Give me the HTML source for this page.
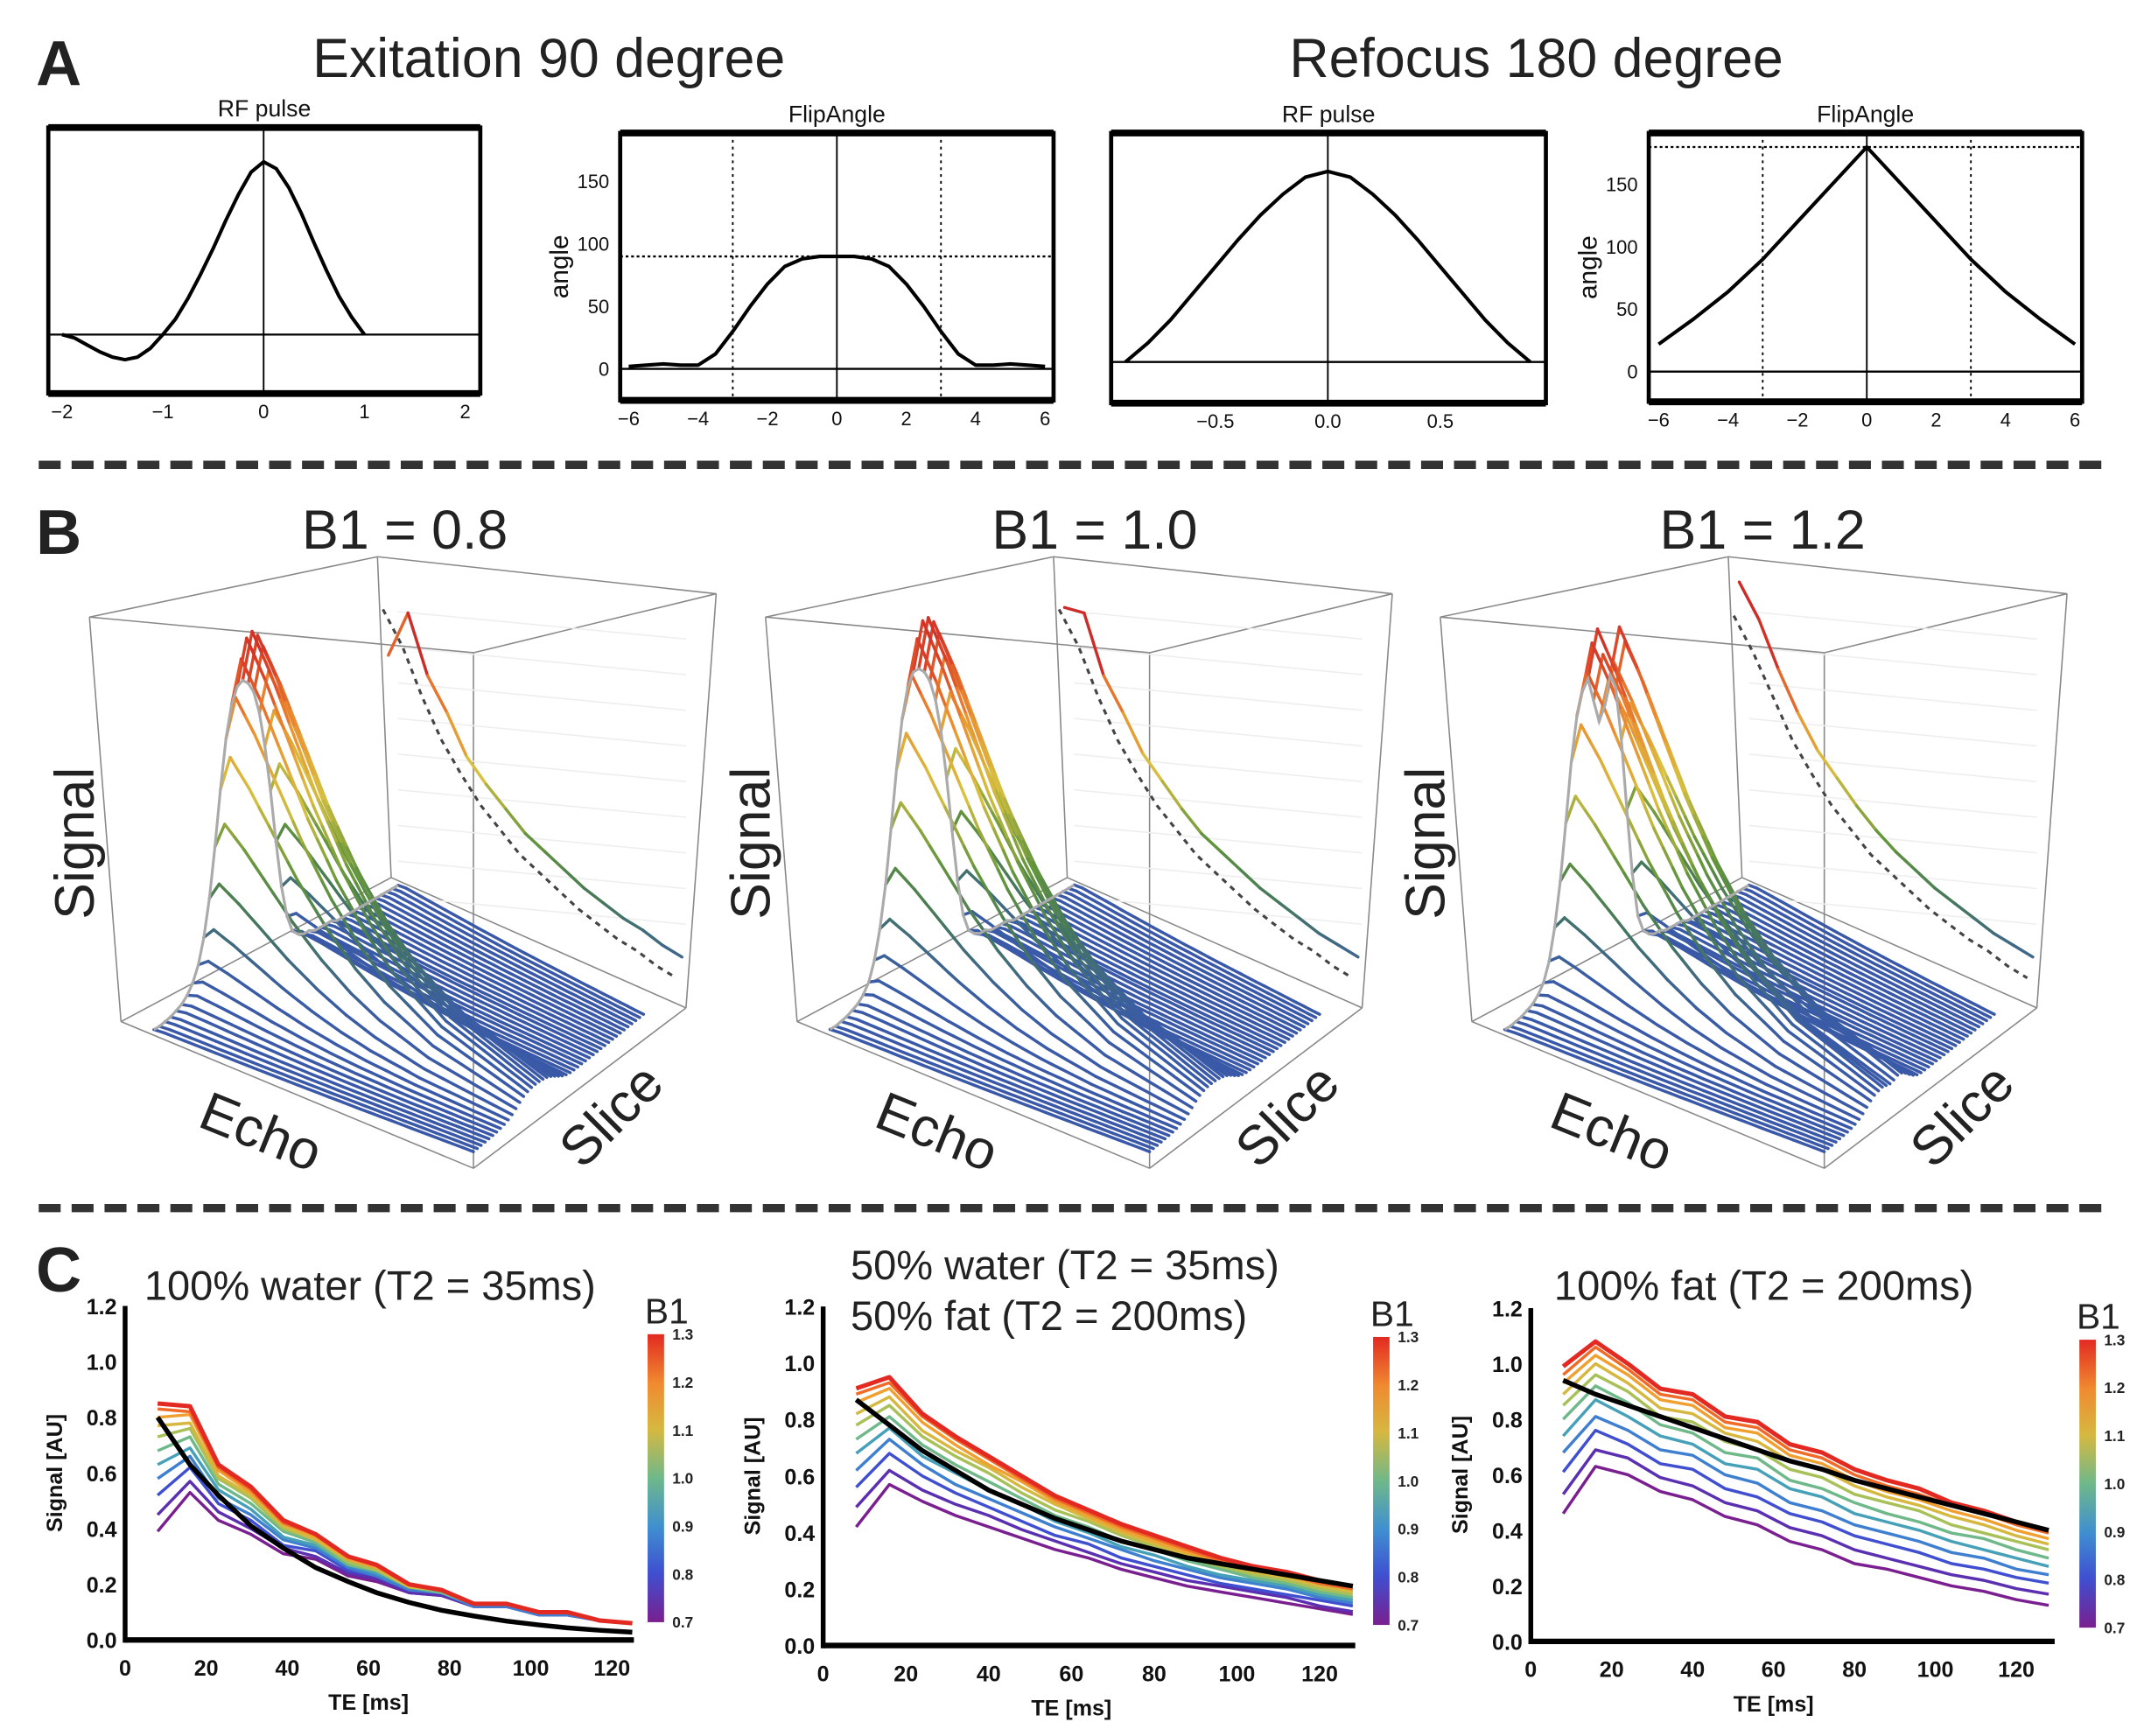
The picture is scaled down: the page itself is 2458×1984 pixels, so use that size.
<!DOCTYPE html>
<html><head><meta charset="utf-8"><title>RF pulse and B1 signal simulation figure</title>
<style>html,body{margin:0;padding:0;background:#fff}svg{display:block}text{font-family:"Liberation Sans",sans-serif}</style></head>
<body>
<svg id="fig" xmlns="http://www.w3.org/2000/svg" width="2458" height="1984" viewBox="0 0 1568 1266">
<defs>
<linearGradient id="cbar" x1="0" y1="1" x2="0" y2="0">
<stop offset="0" stop-color="#7a1f8f"/><stop offset="0.17" stop-color="#3f4fd0"/><stop offset="0.33" stop-color="#3f8fd0"/><stop offset="0.5" stop-color="#6fb88a"/><stop offset="0.67" stop-color="#d6b840"/><stop offset="0.83" stop-color="#f08a30"/><stop offset="1" stop-color="#e22a22"/>
</linearGradient>
</defs>
<g id="panelA">
<text x="26" y="62" font-size="46" font-weight="bold" fill="#222">A</text>
<text x="400" y="56" font-size="40" text-anchor="middle" fill="#222">Exitation 90 degree</text>
<text x="1120" y="56" font-size="40" text-anchor="middle" fill="#222">Refocus 180 degree</text>
</g>
<line x1="28" y1="339" x2="1540" y2="339" stroke="#333" stroke-width="6" stroke-dasharray="16 8"/>
<line x1="28" y1="881" x2="1540" y2="881" stroke="#333" stroke-width="6" stroke-dasharray="16 8"/>
<g id="panelB">
<text x="26" y="404" font-size="46" font-weight="bold" fill="#222">B</text>
<text x="295" y="400" font-size="40" text-anchor="middle" fill="#222">B1 = 0.8</text>
<text x="798" y="400" font-size="40" text-anchor="middle" fill="#222">B1 = 1.0</text>
<text x="1285" y="400" font-size="40" text-anchor="middle" fill="#222">B1 = 1.2</text>
</g>
<g id="panelC">
<text x="26" y="942" font-size="46" font-weight="bold" fill="#222">C</text>
<text x="105" y="948" font-size="30" fill="#222">100% water (T2 = 35ms)</text>
<text x="620" y="933" font-size="30" fill="#222">50% water (T2 = 35ms)</text>
<text x="620" y="970" font-size="30" fill="#222">50% fat (T2 = 200ms)</text>
<text x="1133" y="948" font-size="30" fill="#222">100% fat (T2 = 200ms)</text>
</g>
</svg>
<script>
// ---------- Panel A data ----------
const rf90X = [-2,-1.875,-1.75,-1.625,-1.5,-1.375,-1.25,-1.125,-1,-0.875,-0.75,-0.625,-0.5,-0.375,-0.25,-0.125,0,0.125,0.25,0.375,0.5,0.625,0.75,0.875,1];
const rf90Y = [0,-0.02,-0.06,-0.10,-0.13,-0.145,-0.13,-0.08,0,0.09,0.21,0.35,0.50,0.66,0.81,0.94,1.0,0.96,0.85,0.70,0.53,0.37,0.22,0.10,0];
const fa90X = [-6,-5.5,-5,-4.5,-4,-3.5,-3,-2.5,-2,-1.5,-1,-0.5,0,0.5,1,1.5,2,2.5,3,3.5,4,4.5,5,5.5,6];
const fa90Y = [2,3,4,3,3,12,30,50,68,82,88,90,90,90,88,82,68,50,30,12,3,3,4,3,2];
const rf180X = [-0.9,-0.8,-0.7,-0.6,-0.5,-0.4,-0.3,-0.2,-0.1,0,0.1,0.2,0.3,0.4,0.5,0.6,0.7,0.8,0.9];
const rf180Y = [0,0.1,0.22,0.36,0.5,0.64,0.77,0.88,0.97,1,0.97,0.88,0.77,0.64,0.5,0.36,0.22,0.1,0];
const fa180X = [-6,-5,-4,-3,-2,-1,0,1,2,3,4,5,6];
const fa180Y = [22,42,64,90,120,150,180,150,120,90,64,42,22];
const faTicks = [0,50,100,150];
const rfTicks90 = [-2,-1,0,1,2];
const xTicks6 = [-6,-4,-2,0,2,4,6];
const rfTicks180 = [-0.5,0.0,0.5];

// ---------- Panel B data ----------
const echoDecay = [0.85,1.00,0.95,0.90,0.84,0.78,0.72,0.66,0.60,0.55,0.50,0.45,0.41,0.37,0.33,0.30,0.27,0.24,0.22,0.20,0.18,0.16,0.14,0.13,0.12,0.11,0.10,0.09,0.08,0.07,0.06,0.05];
const profile08 = [0.01,0.01,0.015,0.02,0.03,0.04,0.06,0.09,0.14,0.22,0.34,0.50,0.68,0.84,0.94,0.99,1.0,0.98,0.94,0.86,0.74,0.58,0.40,0.24,0.13,0.07,0.05,0.04,0.04,0.03,0.03,0.03,0.03,0.02,0.02,0.02,0.02,0.02,0.02,0.02,0.02,0.02,0.02,0.02,0.02];
const profile10 = [0.01,0.01,0.015,0.02,0.03,0.04,0.06,0.09,0.15,0.24,0.37,0.54,0.72,0.87,0.96,1.0,1.0,0.98,0.94,0.87,0.76,0.60,0.42,0.25,0.13,0.07,0.05,0.04,0.04,0.03,0.03,0.03,0.03,0.02,0.02,0.02,0.02,0.02,0.02,0.02,0.02,0.02,0.02,0.02,0.02];
const profile12 = [0.01,0.01,0.015,0.02,0.03,0.04,0.06,0.09,0.15,0.25,0.39,0.57,0.76,0.90,0.97,1.0,0.92,0.84,0.88,0.97,0.92,0.74,0.50,0.28,0.13,0.07,0.05,0.04,0.04,0.03,0.03,0.03,0.03,0.02,0.02,0.02,0.02,0.02,0.02,0.02,0.02,0.02,0.02,0.02,0.02];
const wall08 = [0.85,1.00,0.82,0.72,0.60,0.53,0.47,0.41,0.37,0.33,0.29,0.26,0.23,0.21,0.18,0.16];
const wallDash08 = [1.02,0.92,0.78,0.66,0.57,0.49,0.43,0.37,0.33,0.29,0.25,0.22,0.19,0.17,0.14,0.12];
const wall10 = [1.00,1.00,0.82,0.72,0.61,0.54,0.47,0.41,0.37,0.33,0.29,0.26,0.23,0.20,0.18,0.16];
const wallDash10 = [1.02,0.92,0.78,0.66,0.57,0.49,0.43,0.37,0.33,0.29,0.25,0.22,0.19,0.17,0.14,0.12];
const wall12 = [1.08,0.98,0.84,0.72,0.62,0.55,0.48,0.42,0.37,0.33,0.29,0.26,0.23,0.20,0.18,0.16];
const wallDash12 = [1.00,0.90,0.78,0.66,0.57,0.49,0.43,0.37,0.33,0.29,0.25,0.22,0.19,0.17,0.14,0.12];

// ---------- Panel C data ----------
const teWater = [8,16,23,31,39,47,55,62,70,78,86,94,102,109,117,125];
const teMix = [8,16,24,32,40,48,56,64,72,80,88,96,104,112,120,128];
const b1Levels = [0.7,0.76,0.82,0.88,0.94,1.0,1.06,1.12,1.18,1.24,1.3];
const water070 = [.39,.53,.43,.38,.31,.29,.23,.21,.17,.16,.12,.12,.09,.09,.07,.06];
const water076 = [.45,.57,.46,.40,.33,.30,.24,.22,.17,.16,.12,.12,.09,.09,.07,.06];
const water082 = [.52,.62,.49,.43,.34,.32,.25,.23,.18,.17,.12,.12,.09,.09,.07,.06];
const water088 = [.58,.66,.51,.45,.36,.33,.26,.23,.18,.17,.12,.12,.09,.09,.07,.06];
const water094 = [.63,.69,.54,.47,.37,.34,.27,.24,.19,.17,.13,.13,.10,.10,.07,.06];
const water100 = [.68,.73,.56,.49,.39,.35,.27,.25,.19,.17,.13,.13,.10,.10,.07,.06];
const water106 = [.73,.76,.58,.51,.40,.36,.28,.25,.19,.18,.13,.13,.10,.10,.07,.06];
const water112 = [.77,.78,.59,.52,.41,.36,.29,.26,.19,.18,.13,.13,.10,.10,.07,.06];
const water118 = [.80,.81,.61,.53,.42,.37,.29,.26,.20,.18,.13,.13,.10,.10,.07,.06];
const water124 = [.83,.82,.62,.54,.42,.38,.30,.27,.20,.18,.13,.13,.10,.10,.07,.06];
const water130 = [.85,.84,.63,.55,.43,.38,.30,.27,.20,.18,.13,.13,.10,.10,.07,.06];
const waterRef = [.80,.63,.52,.41,.33,.26,.21,.17,.135,.107,.086,.068,.054,.044,.035,.028];
const mix070 = [.42,.57,.51,.46,.42,.38,.34,.31,.27,.24,.21,.19,.17,.15,.13,.11];
const mix076 = [.49,.62,.55,.50,.46,.41,.37,.33,.29,.26,.23,.21,.19,.17,.14,.12];
const mix082 = [.56,.68,.60,.54,.49,.44,.39,.36,.31,.28,.25,.22,.20,.18,.16,.14];
const mix088 = [.62,.73,.64,.57,.52,.47,.42,.38,.34,.30,.27,.24,.22,.20,.17,.15];
const mix094 = [.68,.77,.67,.61,.55,.50,.44,.40,.35,.32,.28,.25,.23,.21,.18,.16];
const mix100 = [.73,.81,.71,.64,.58,.52,.46,.42,.37,.34,.30,.27,.24,.22,.19,.17];
const mix106 = [.78,.85,.74,.67,.61,.54,.48,.44,.39,.35,.31,.28,.25,.23,.20,.18];
const mix112 = [.82,.88,.76,.69,.63,.56,.50,.45,.40,.36,.32,.29,.26,.24,.21,.19];
const mix118 = [.86,.91,.79,.71,.64,.58,.51,.46,.41,.37,.33,.30,.27,.25,.22,.20];
const mix124 = [.89,.93,.81,.73,.66,.59,.52,.47,.42,.38,.34,.30,.27,.25,.22,.20];
const mix130 = [.91,.95,.82,.74,.67,.60,.53,.48,.43,.39,.35,.31,.28,.26,.23,.21];
const mixRef = [.87,.78,.69,.62,.55,.50,.45,.41,.37,.34,.31,.29,.27,.25,.23,.21];
const fat070 = [.46,.63,.60,.54,.51,.45,.42,.36,.33,.28,.26,.23,.20,.18,.15,.13];
const fat076 = [.53,.69,.66,.59,.56,.50,.47,.41,.38,.33,.30,.27,.24,.22,.19,.17];
const fat082 = [.61,.76,.71,.64,.62,.55,.52,.46,.43,.38,.35,.32,.28,.26,.23,.21];
const fat088 = [.68,.81,.76,.69,.67,.60,.57,.50,.47,.42,.39,.36,.32,.30,.26,.24];
const fat094 = [.74,.87,.81,.74,.71,.64,.62,.55,.52,.46,.43,.40,.36,.33,.30,.27];
const fat100 = [.80,.92,.86,.78,.75,.68,.66,.58,.55,.50,.46,.43,.39,.37,.33,.30];
const fat106 = [.85,.96,.90,.81,.79,.72,.69,.62,.59,.53,.50,.47,.42,.39,.36,.33];
const fat112 = [.89,1.00,.93,.84,.82,.75,.72,.65,.62,.56,.52,.49,.45,.42,.38,.35];
const fat118 = [.93,1.03,.96,.87,.85,.77,.75,.67,.64,.58,.54,.51,.47,.44,.40,.37];
const fat124 = [.96,1.06,.98,.89,.87,.79,.77,.69,.66,.60,.56,.53,.49,.46,.42,.39];
const fat130 = [.99,1.08,1.00,.91,.89,.81,.79,.71,.68,.62,.58,.55,.50,.47,.43,.40];
const fatRef = [.94,.89,.85,.81,.77,.73,.69,.65,.62,.58,.55,.52,.49,.46,.43,.40];
const sigTicks = [0.0,0.2,0.4,0.6,0.8,1.0,1.2];
const teTicks = [0,20,40,60,80,100,120];
const cbarTicks = [0.7,0.8,0.9,1.0,1.1,1.2,1.3];

const NS='http://www.w3.org/2000/svg';
const svg=document.getElementById('fig');
function mk(tag,attrs,parent){const e=document.createElementNS(NS,tag);for(const k in attrs)e.setAttribute(k,attrs[k]);(parent||svg).appendChild(e);return e;}
function pts(xs,ys,fx,fy){return xs.map((x,i)=>fx(x).toFixed(1)+','+fy(ys[i]).toFixed(1)).join(' ');}
const lineColors=['#7a1f8f','#5a2fb0','#3f4fd0','#3f7fd0','#46a0b8','#6fb88a','#a8c058','#d6b840','#f0a030','#f06a28','#e22a22'];

// ---------- Panel A ----------
function aPlot(cfg){
  const g=mk('g',{});
  
  
  const fx=v=>cfg.x0+v*cfg.kx, fy=v=>cfg.y0-v*cfg.ky;
  const t=mk('text',{x:(cfg.L+cfg.R)/2,y:cfg.T-8,'font-size':17,'text-anchor':'middle',fill:'#111'},g);t.textContent=cfg.title;
  
  const r=mk('rect',{x:cfg.L,y:cfg.T,width:cfg.R-cfg.L,height:cfg.B-cfg.T,fill:'none',stroke:'#000','stroke-width':3},g);
  
  mk('line',{x1:cfg.L,x2:cfg.R,y1:cfg.T,y2:cfg.T,stroke:'#000','stroke-width':5},g);
  mk('line',{x1:cfg.L,x2:cfg.R,y1:cfg.B,y2:cfg.B,stroke:'#000','stroke-width':5},g);
  mk('line',{x1:cfg.L,x2:cfg.R,y1:fy(0),y2:fy(0),stroke:'#000','stroke-width':1.5},g);
  mk('line',{x1:fx(0),x2:fx(0),y1:cfg.T,y2:cfg.B,stroke:'#000','stroke-width':1.2},g);
  (cfg.dotV||[]).forEach(v=>mk('line',{x1:fx(v),x2:fx(v),y1:cfg.T,y2:cfg.B,stroke:'#000','stroke-width':1.2,'stroke-dasharray':'2 3'},g));
  (cfg.dotH||[]).forEach(v=>mk('line',{x1:cfg.L,x2:cfg.R,y1:fy(v),y2:fy(v),stroke:'#000','stroke-width':1.5,'stroke-dasharray':'2 2'},g));
  const c=mk('polyline',{points:pts(cfg.xs,cfg.ys,fx,fy),fill:'none',stroke:'#000','stroke-width':2.6,'stroke-linejoin':'round'},g);
  
  cfg.xt.forEach(v=>{const tt=mk('text',{x:fx(v),y:cfg.B+18,'font-size':14,'text-anchor':'middle',fill:'#111'},g);tt.textContent=(cfg.xfmt?cfg.xfmt(v):String(v)).replace('-','\u2212');
    });
  if(cfg.yt){cfg.yt.forEach(v=>{const tt=mk('text',{x:cfg.L-8,y:fy(v)+5,'font-size':14,'text-anchor':'end',fill:'#111'},g);tt.textContent=v;
    });
    const yl=mk('text',{x:0,y:0,'font-size':19,'text-anchor':'middle',fill:'#111',transform:`translate(${cfg.L-38},${(cfg.T+cfg.B)/2}) rotate(-90)`},g);yl.textContent='angle';
    }
}
aPlot({name:'rf-pulse-90',title:'RF pulse',L:35,R:350,T:93,B:287,x0:192,kx:73.5,y0:244,ky:126,xs:rf90X,ys:rf90Y,xt:rfTicks90});
aPlot({name:'flip-angle-90',title:'FlipAngle',L:452,R:768,T:97,B:292,x0:610,kx:25.3,y0:269,ky:0.911,xs:fa90X,ys:fa90Y,xt:xTicks6,yt:faTicks,dotV:[-3,3],dotH:[90]});
aPlot({name:'rf-pulse-180',title:'RF pulse',L:810,R:1127,T:97,B:294,x0:968,kx:164,y0:264,ky:139,xs:rf180X,ys:rf180Y,xt:rfTicks180,xfmt:v=>v.toFixed(1)});
aPlot({name:'flip-angle-180',title:'FlipAngle',L:1202,R:1518,T:97,B:293,x0:1361,kx:25.3,y0:271,ky:0.91,xs:fa180X,ys:fa180Y,xt:xTicks6,yt:faTicks,dotV:[-3,3],dotH:[180]});

// ---------- Panel B ----------
const cmapStops=[[0,[58,88,168]],[0.12,[58,92,165]],[0.28,[70,120,90]],[0.42,[100,150,60]],[0.6,[216,192,64]],[0.78,[235,140,48]],[0.9,[220,70,40]],[1,[205,45,40]]];
function cmap(v){v=Math.max(0,Math.min(1,v));for(let i=1;i<cmapStops.length;i++){const a=cmapStops[i-1],b=cmapStops[i];if(v<=b[0]){const t=(v-a[0])/(b[0]-a[0]);const c=a[1].map((x,j)=>Math.round(x+(b[1][j]-x)*t));return `rgb(${c})`;}}return 'rgb(205,45,40)';}
function draw3D(name,ox,profile,wall,wallDash,zs){
  const g=mk('g',{transform:`translate(${ox},0)`});
  
  
  const V={A:[65,450],B:[345,476],C:[522,433],D:[275,406],E:[88,745],F:[345,852],G:[500,735],H:[285,640]};
  [['A','B'],['B','C'],['C','D'],['D','A'],['E','F'],['F','G'],['G','H'],['H','E'],['A','E'],['B','F'],['C','G'],['D','H']].forEach(([p,q])=>{
    const l=mk('line',{x1:V[p][0],y1:V[p][1],x2:V[q][0],y2:V[q][1],stroke:'#888','stroke-width':1},g);
    });
  for(let i=1;i<=9;i++){const y=420+i*26;mk('line',{x1:290,y1:y,x2:500,y2:y+20,stroke:'#eee','stroke-width':1},g);}
  const P00=[112,753],P01=[345,840],P10=[290,650],P11=[469,740];
  const N=echoDecay.length,M=profile.length;
  const pos=(j,k,z)=>{const s=j/(M-1),e=k/(N-1);
    const x=(1-s)*((1-e)*P00[0]+e*P01[0])+s*((1-e)*P10[0]+e*P11[0]);
    const y=(1-s)*((1-e)*P00[1]+e*P01[1])+s*((1-e)*P10[1]+e*P11[1]);
    return [x,y-z];};
  for(let j=M-1;j>=0;j--){
    const lg=mk('g',{},g);
    
    
    for(let k=1;k<N;k++){
      const v0=profile[j]*echoDecay[k-1],v1=profile[j]*echoDecay[k];
      const a=pos(j,k-1,zs*v0),b=pos(j,k,zs*v1);
      mk('line',{x1:a[0].toFixed(1),y1:a[1].toFixed(1),x2:b[0].toFixed(1),y2:b[1].toFixed(1),stroke:cmap((v0+v1)/2),'stroke-width':2.2,'stroke-linecap':'round'},lg);
    }
  }
  const env=mk('polyline',{points:profile.map((v,j)=>pos(j,0,zs*v*echoDecay[0]).map(n=>n.toFixed(1)).join(',')).join(' '),fill:'none',stroke:'#aaa','stroke-width':2},g);
  
  const W=wall.length;
  const wp=(arr,i)=>{const e=i/(W-1);return [283+214*e,675+60*e-232*arr[i]];};
  const dash=mk('polyline',{points:wallDash.map((v,i)=>{const q=wp(wallDash,i);return (q[0]-4).toFixed(1)+','+(q[1]+6).toFixed(1);}).join(' '),fill:'none',stroke:'#444','stroke-width':2,'stroke-dasharray':'4 4'},g);
  
  for(let i=1;i<W;i++){const a=wp(wall,i-1),b=wp(wall,i);
    const sg=mk('line',{x1:a[0],y1:a[1],x2:b[0],y2:b[1],stroke:cmap(wall[i-1]),'stroke-width':2.2,'stroke-linecap':'round'},g);
    }
  const ts=mk('text',{x:0,y:0,'font-size':40,'text-anchor':'middle',fill:'#222',transform:'translate(68,615) rotate(-90)'},g);ts.textContent='Signal';
  
  const te=mk('text',{x:0,y:0,'font-size':40,'text-anchor':'middle',fill:'#222',transform:'translate(185,838) rotate(22)'},g);te.textContent='Echo';
  
  const tl=mk('text',{x:0,y:0,'font-size':40,'text-anchor':'middle',fill:'#222',transform:'translate(455,823) rotate(-45)'},g);tl.textContent='Slice';
  
}
draw3D('surface-b1-08',0,profile08,wall08,wallDash08,258);
draw3D('surface-b1-10',493,profile10,wall10,wallDash10,268);
draw3D('surface-b1-12',985,profile12,wall12,wallDash12,262);

// ---------- Panel C ----------
function cPlot(cfg){
  const g=mk('g',{});
  
  
  const fx=v=>cfg.L+v*cfg.kx, fy=v=>cfg.B-v*cfg.ky;
  cfg.series.forEach((s,i)=>{const pl=mk('polyline',{points:pts(cfg.te,s,fx,fy),fill:'none',stroke:lineColors[i],'stroke-width':i===10?3.2:2.2,'stroke-linejoin':'round'},g);
    });
  const rl=mk('polyline',{points:pts(cfg.te,cfg.ref,fx,fy),fill:'none',stroke:'#000','stroke-width':3.5},g);
  
  const ya=mk('line',{x1:cfg.L,y1:cfg.B-1.2*cfg.ky,x2:cfg.L,y2:cfg.B+2,stroke:'#000','stroke-width':3.5},g);
  
  const xa=mk('line',{x1:cfg.L,y1:cfg.B,x2:cfg.xEnd,y2:cfg.B,stroke:'#000','stroke-width':4},g);
  
  sigTicks.forEach(v=>{const t=mk('text',{x:cfg.L-6,y:fy(v)+6,'font-size':16,'font-weight':'bold','text-anchor':'end',fill:'#111'},g);t.textContent=v.toFixed(1);
    });
  teTicks.forEach(v=>{const t=mk('text',{x:fx(v),y:cfg.B+26,'font-size':16,'font-weight':'bold','text-anchor':'middle',fill:'#111'},g);t.textContent=v;
    });
  const xl=mk('text',{x:fx(60),y:cfg.B+51,'font-size':16,'font-weight':'bold','text-anchor':'middle',fill:'#111'},g);xl.textContent='TE [ms]';
  
  const yl=mk('text',{x:0,y:0,'font-size':16,'font-weight':'bold','text-anchor':'middle',fill:'#111',transform:`translate(${cfg.L-46},${cfg.B-0.6*cfg.ky}) rotate(-90)`},g);yl.textContent='Signal [AU]';
  
  const cb=mk('rect',{x:cfg.cbx,y:cfg.cby,width:12,height:210,fill:'url(#cbar)'},g);
  
  const cbt=mk('text',{x:cfg.cbx-2,y:cfg.cby-8,'font-size':26,fill:'#222'},g);cbt.textContent='B1';
  
  cbarTicks.forEach(v=>{const t=mk('text',{x:cfg.cbx+18,y:cfg.cby+210-(v-0.7)/0.6*210+4,'font-size':11,'font-weight':'bold',fill:'#222'},g);t.textContent=v.toFixed(1);
    });
}
cPlot({name:'water-chart',L:91,B:1196,kx:2.958,ky:203,xEnd:462,te:teWater,series:[water070,water076,water082,water088,water094,water100,water106,water112,water118,water124,water130],ref:waterRef,cbx:472,cby:973});
cPlot({name:'mix-chart',L:600,B:1200,kx:3.017,ky:206,xEnd:988,te:teMix,series:[mix070,mix076,mix082,mix088,mix094,mix100,mix106,mix112,mix118,mix124,mix130],ref:mixRef,cbx:1001,cby:975});
cPlot({name:'fat-chart',L:1116,B:1197,kx:2.95,ky:202.5,xEnd:1498,te:teMix,series:[fat070,fat076,fat082,fat088,fat094,fat100,fat106,fat112,fat118,fat124,fat130],ref:fatRef,cbx:1516,cby:977});
</script>
</body></html>
